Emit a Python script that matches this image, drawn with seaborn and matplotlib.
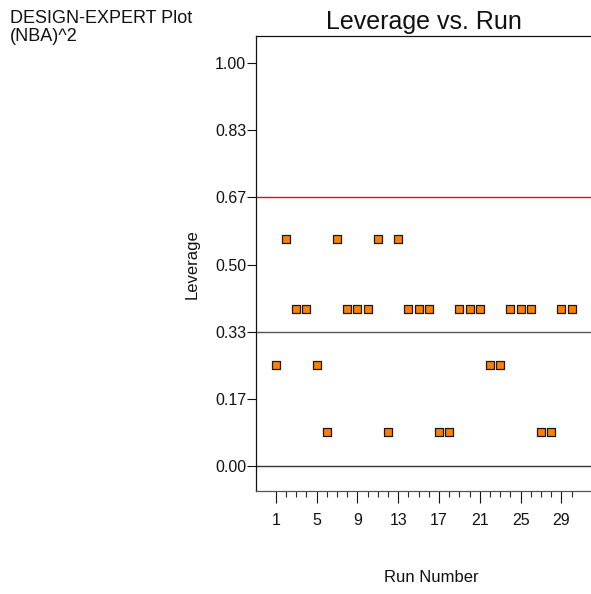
import matplotlib
matplotlib.use("Agg")
import matplotlib.pyplot as plt
import seaborn as sns
import pandas as pd
from matplotlib.ticker import FixedLocator

sns.set_theme(style="white")
plt.rcParams["font.family"] = ["Liberation Sans", "DejaVu Sans"]

# Leverage for each run of the design
runs = list(range(1, 31))
leverage = [0.2500, 0.5625, 0.3906, 0.3906, 0.2500, 0.0833, 0.5625, 0.3906,
            0.3906, 0.3906, 0.5625, 0.0833, 0.5625, 0.3906, 0.3906, 0.3906,
            0.0833, 0.0833, 0.3906, 0.3906, 0.3906, 0.2500, 0.2500, 0.3906,
            0.3906, 0.3906, 0.0833, 0.0833, 0.3906, 0.3906]
y_ticks = [0.0, 1 / 6, 2 / 6, 3 / 6, 4 / 6, 5 / 6, 1.0]
y_tick_labels = ["0.00", "0.17", "0.33", "0.50", "0.67", "0.83", "1.00"]
x_ticks = [1, 5, 9, 13, 17, 21, 25, 29]
avg_line = 1 / 3
limit_line = 2 / 3

df = pd.DataFrame({"Run": runs, "Leverage": leverage})

fig = plt.figure(figsize=(5.91, 5.94), dpi=100)
ax = fig.add_axes([256 / 591, 1 - 491 / 594, 1 - 256 / 591, (491 - 36) / 594])

ax.axhline(0.0, color="#333333", lw=1.0, zorder=1)
ax.axhline(avg_line, color="#555555", lw=1.0, zorder=1)
ax.axhline(limit_line, color="#ff0000", lw=1.0, zorder=1)

sns.scatterplot(data=df, x="Run", y="Leverage", marker="s", s=38,
                color="#ff8000", edgecolor="#1a1a1a", linewidth=0.9,
                ax=ax, zorder=3, legend=False)

ax.set_xlim(-0.95, 31.9)
ax.set_ylim(-0.062, 1.067)

ax.yaxis.set_major_locator(FixedLocator(y_ticks))
ax.set_yticklabels(y_tick_labels)
ax.xaxis.set_major_locator(FixedLocator(x_ticks))
ax.xaxis.set_minor_locator(FixedLocator(runs))
ax.set_xticklabels([str(t) for t in x_ticks])

ax.tick_params(axis="y", which="major", direction="out", length=6.5, width=0.8,
               pad=0.5, labelsize=11.5, colors="#111111", left=True)
ax.tick_params(axis="x", which="major", direction="out", length=8.5, width=0.8,
               pad=7, labelsize=11.5, colors="#111111", bottom=True)
ax.tick_params(axis="x", which="minor", direction="out", length=4.5, width=0.8,
               bottom=True)

for side in ["left", "top", "bottom"]:
    ax.spines[side].set_visible(True)
    ax.spines[side].set_color("#111111")
    ax.spines[side].set_linewidth(0.9)
ax.spines["right"].set_visible(False)
ax.spines["bottom"].set_color("#555555")

ax.set_xlabel("")
ax.set_ylabel("")
fig.text(192 / 591, 1 - 264 / 594, "Leverage", rotation=90, ha="center",
         va="center", fontsize=12, color="#111111")
fig.text(431 / 591, 1 - 578 / 594, "Run Number", ha="center", va="center",
         fontsize=12, color="#111111")
fig.text(424 / 591, 1 - 29 / 594, "Leverage vs. Run", ha="center",
         va="baseline", fontsize=18, color="#111111")
fig.text(10 / 591, 1 - 23 / 594, "DESIGN-EXPERT Plot", ha="left",
         va="baseline", fontsize=13, color="#111111")
fig.text(10 / 591, 1 - 41 / 594, "(NBA)^2", ha="left", va="baseline",
         fontsize=13, color="#111111")

fig.savefig("out.png", dpi=100)
